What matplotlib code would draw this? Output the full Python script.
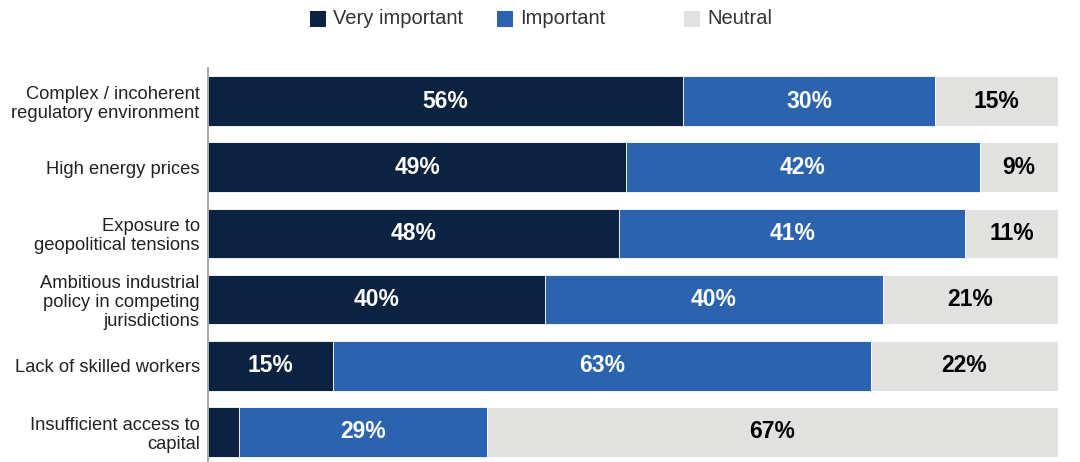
import matplotlib
matplotlib.use('Agg')
import matplotlib.pyplot as plt
from matplotlib.patches import Rectangle

plt.rcParams['font.family'] = ['Liberation Sans', 'DejaVu Sans']

categories = ['Complex / incoherent\nregulatory environment',
              'High energy prices',
              'Exposure to\ngeopolitical tensions',
              'Ambitious industrial\npolicy in competing\njurisdictions',
              'Lack of skilled workers',
              'Insufficient access to\ncapital']
very_important = [55.9, 49.2, 48.4, 39.6, 14.7, 3.6]
important = [29.6, 41.6, 40.7, 39.8, 63.3, 29.2]
neutral = [14.6, 9.2, 10.9, 20.6, 22.0, 67.2]
series_names = ['Very important', 'Important', 'Neutral']
colors = ['#0b2341', '#2b63ae', '#e1e1e0']
text_colors = ['white', 'white', 'black']

fig = plt.figure(figsize=(10.8, 4.62), dpi=100)
ax = fig.add_axes([208/1080, -3/462, 850/1080, 397/462])

ys = list(range(len(categories)))
left = [0]*len(categories)
for vals, col, tcol in zip([very_important, important, neutral], colors, text_colors):
    ax.barh(ys, vals, left=left, height=0.75, color=col, edgecolor='white', linewidth=0.6)
    for y, l, v in zip(ys, left, vals):
        if v >= 8:
            ax.text(l + v/2, y, f'{v:.0f}%', ha='center', va='center',
                    color=tcol, fontsize=16.5, fontweight='bold')
    left = [a + b for a, b in zip(left, vals)]

ax.set_xlim(0, 100)
ax.set_ylim(5.5, -0.5)
ax.set_yticks(ys)
ax.set_yticklabels(categories, fontsize=13.2, color='#222222', linespacing=1.15)
ax.tick_params(axis='y', length=0, pad=6)
ax.set_xticks([])
for s in ['top', 'right', 'bottom']:
    ax.spines[s].set_visible(False)
ax.spines['left'].set_color('#999999')
ax.spines['left'].set_linewidth(1.2)

# legend drawn by hand to keep the uneven spacing
leg_x = [310, 497, 684]
for x, name, col in zip(leg_x, series_names, colors):
    fig.patches.append(Rectangle((x/1080, 1 - 27/462), 16/1080, 16/462,
                                 transform=fig.transFigure, facecolor=col,
                                 edgecolor='none'))
    fig.text((x + 23)/1080, 1 - 19/462, name, fontsize=14.5, va='center',
             ha='left', color='#333333')

fig.savefig('out.png', dpi=100)
